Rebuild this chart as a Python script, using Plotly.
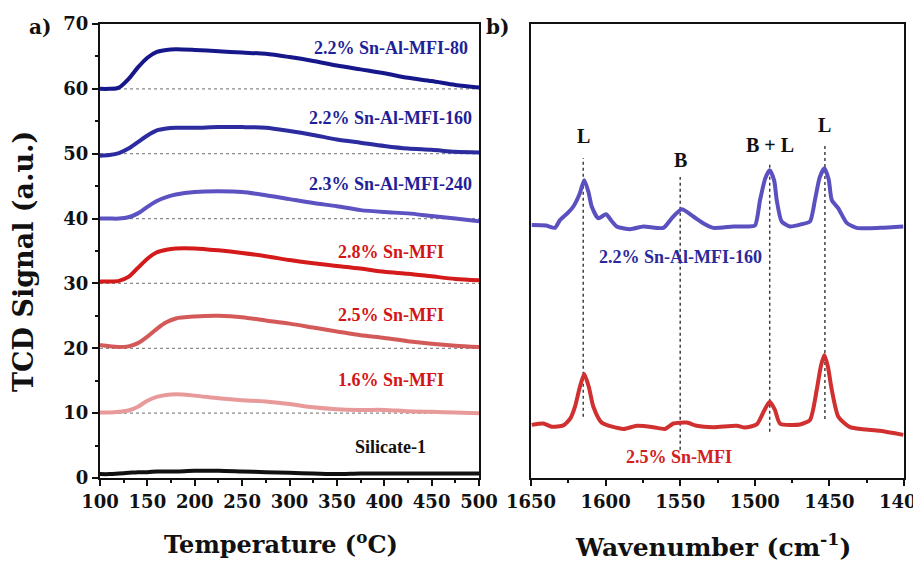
import plotly.graph_objects as go

# ---------------- Panel a) TPD data ----------------
temp = [100, 110, 120, 130, 140, 150, 160, 170, 180, 200, 225, 250, 275, 300, 325, 350, 375, 400, 425, 450, 475, 500]
sn_al_80 = [60.0, 60.0, 60.2, 61.5, 63.3, 64.8, 65.7, 66.0, 66.1, 66.0, 65.8, 65.6, 65.4, 64.9, 64.3, 63.6, 63.0, 62.4, 61.7, 61.2, 60.6, 60.2]
sn_al_160 = [49.7, 49.8, 50.1, 50.8, 51.8, 52.8, 53.6, 53.9, 54.0, 54.0, 54.1, 54.1, 54.0, 53.5, 52.9, 52.2, 51.7, 51.2, 50.8, 50.6, 50.3, 50.2]
sn_al_240 = [40.0, 40.0, 40.0, 40.2, 40.8, 41.8, 42.7, 43.3, 43.7, 44.1, 44.2, 44.1, 43.6, 43.0, 42.4, 41.9, 41.3, 41.0, 40.8, 40.4, 40.0, 39.6]
sn_28 = [30.3, 30.3, 30.4, 31.0, 32.4, 33.8, 34.8, 35.2, 35.4, 35.4, 35.1, 34.7, 34.2, 33.6, 33.1, 32.7, 32.3, 31.8, 31.5, 31.1, 30.7, 30.5]
sn_25 = [20.5, 20.3, 20.2, 20.3, 20.8, 21.8, 23.0, 24.0, 24.6, 24.9, 25.0, 24.8, 24.3, 23.8, 23.2, 22.6, 22.0, 21.6, 21.1, 20.7, 20.4, 20.2]
sn_16 = [10.1, 10.1, 10.2, 10.4, 11.0, 11.9, 12.5, 12.8, 12.9, 12.7, 12.3, 12.0, 11.8, 11.4, 10.9, 10.6, 10.5, 10.5, 10.3, 10.2, 10.1, 10.0]
silicate = [0.6, 0.6, 0.7, 0.8, 0.9, 0.9, 1.0, 1.0, 1.0, 1.1, 1.1, 1.0, 0.9, 0.8, 0.7, 0.6, 0.7, 0.7, 0.7, 0.7, 0.7, 0.7]
baselines = [10, 20, 30, 40, 50, 60]

tpd_names = ["2.2% Sn-Al-MFI-80", "2.2% Sn-Al-MFI-160", "2.3% Sn-Al-MFI-240",
             "2.8% Sn-MFI", "2.5% Sn-MFI", "1.6% Sn-MFI", "Silicate-1"]
tpd_series = [sn_al_80, sn_al_160, sn_al_240, sn_28, sn_25, sn_16, silicate]
tpd_colors = ["#17178c", "#2c2ca0", "#5c52c2", "#d41a1a", "#d45a5a", "#e89a9a", "#111111"]
label_colors = ["#1f1f99", "#1f1f99", "#1f1f99", "#d41515", "#d41515", "#d41515", "#111111"]
label_y = [66.3, 55.5, 45.3, 34.9, 25.1, 15.1, 4.8]
label_x = 407

# ---------------- Panel b) IR data ----------------
wn_blue = [1649.5, 1640, 1634, 1630.6, 1625, 1621.6, 1617.5, 1614.3, 1611.5, 1609.3, 1604.9, 1599.7, 1596,
           1592.6, 1583.6, 1574.7, 1561.3, 1555.7, 1549, 1541.2, 1534, 1527.8, 1514.4, 1505.4, 1499.9,
           1496.5, 1493, 1490, 1487, 1485.3, 1482, 1476.4, 1468.6, 1463, 1459.7, 1456.5, 1453.4, 1450.5,
           1448.4, 1444, 1438.4, 1431.7, 1416.1, 1400.5]
ir_blue = [55.7, 55.6, 55.1, 56.8, 58.5, 59.8, 62.5, 65.6, 63.0, 59.8, 57.2, 58.1, 56.6,
           55.4, 54.8, 55.4, 55.1, 57.2, 59.2, 57.6, 56.0, 55.1, 55.4, 55.4, 55.6,
           61.2, 66.0, 67.8, 65.5, 61.2, 56.5, 55.4, 55.9, 56.5, 61.2, 66.2, 68.2, 65.8,
           61.2, 59.4, 56.2, 55.1, 55.1, 55.4]
wn_red = [1649.5, 1641.7, 1636.1, 1628.3, 1623.5, 1620.5, 1617.3, 1614.3, 1611.2, 1608.2, 1602.6, 1588.1,
          1579.2, 1568, 1560.2, 1554.6, 1545.6, 1538.9, 1527.8, 1512.1, 1506.6, 1498.7, 1493.5, 1490,
          1486.5, 1483.1, 1469.7, 1463, 1458.5, 1455.8, 1453.4, 1451, 1448.4, 1444, 1436.2, 1416.1, 1400.5]
ir_red = [11.7, 12.0, 11.3, 11.6, 13.2, 15.7, 20.0, 22.9, 20.0, 15.7, 12.2, 10.8,
          11.5, 11.2, 10.8, 12.0, 12.2, 11.5, 11.2, 11.5, 11.1, 11.8, 15.0, 16.8,
          15.0, 12.0, 11.8, 12.8, 19.4, 24.5, 27.1, 24.5, 19.4, 13.5, 11.2, 10.4, 9.5]
band_pos = [1615, 1550, 1490, 1453]
band_labels = ["L", "B", "B + L", "L"]
band_top = [70.5, 66.3, 69.4, 73.2]
band_bottom = [13.5, 6.2, 10.2, 13.0]
band_label_y = [75.3, 70.0, 73.3, 77.8]

# page is offset by the browser's default 8px body margin
W, H, OFF = 905, 555, 8


def px(X):
    return (X - OFF) / W


def py(Y):
    return 1 - (Y - OFF) / H


fig = go.Figure()

for b in baselines:
    fig.add_trace(go.Scatter(x=[temp[0], temp[-1]], y=[b, b], mode="lines",
                             line=dict(color="#8a8a8a", width=1.2, dash="dot"),
                             xaxis="x", yaxis="y", showlegend=False, hoverinfo="skip"))

for name, ser, col in zip(tpd_names, tpd_series, tpd_colors):
    fig.add_trace(go.Scatter(x=temp, y=ser, mode="lines", name=name,
                             line=dict(color=col, width=4, shape="spline", smoothing=0.8),
                             xaxis="x", yaxis="y", showlegend=False))

for name, ly, col in zip(tpd_names, label_y, label_colors):
    fig.add_annotation(x=label_x, y=ly, xref="x", yref="y", text="<b>%s</b>" % name,
                       showarrow=False, font=dict(family="Liberation Serif", size=18, color=col))

for pos, top, bot in zip(band_pos, band_top, band_bottom):
    fig.add_trace(go.Scatter(x=[pos, pos], y=[bot, top], mode="lines",
                             line=dict(color="#333333", width=1.4, dash="dot"),
                             xaxis="x2", yaxis="y2", showlegend=False, hoverinfo="skip"))

fig.add_trace(go.Scatter(x=wn_blue, y=ir_blue, mode="lines", name="2.2% Sn-Al-MFI-160",
                         line=dict(color="#5a50c0", width=4, shape="spline", smoothing=0.6),
                         xaxis="x2", yaxis="y2", showlegend=False))
fig.add_trace(go.Scatter(x=wn_red, y=ir_red, mode="lines", name="2.5% Sn-MFI",
                         line=dict(color="#d03030", width=4, shape="spline", smoothing=0.6),
                         xaxis="x2", yaxis="y2", showlegend=False))

for pos, lab, ly in zip(band_pos, band_labels, band_label_y):
    fig.add_annotation(x=pos, y=ly, xref="x2", yref="y2", text="<b>%s</b>" % lab,
                       showarrow=False, font=dict(family="Liberation Serif", size=20, color="#111111"))

fig.add_annotation(x=1550, y=48.6, xref="x2", yref="y2", text="<b>2.2% Sn-Al-MFI-160</b>",
                   showarrow=False, font=dict(family="Liberation Serif", size=18, color="#2a2a9a"))
fig.add_annotation(x=1551, y=4.6, xref="x2", yref="y2", text="<b>2.5% Sn-MFI</b>",
                   showarrow=False, font=dict(family="Liberation Serif", size=18, color="#d02020"))

paper_texts = [
    (40, 27, "<b>a)</b>", 20, 0),
    (497, 27, "<b>b)</b>", 20, 0),
    (281, 543, "<b>Temperature (<sup>o</sup>C)</b>", 24, 0),
    (713, 545, "<b>Wavenumber (cm<sup>-1</sup>)</b>", 25, 0),
    (23, 262, "<b>TCD Signal (a.u.)</b>", 27, -90),
]
for X, Y, txt, sz, ang in paper_texts:
    fig.add_annotation(x=px(X), y=py(Y), xref="paper", yref="paper", text=txt, textangle=ang,
                       xanchor="center", yanchor="middle", showarrow=False,
                       font=dict(family="DejaVu Serif", size=sz, color="#111111"))

axis_common = dict(showline=True, linecolor="#111111", linewidth=2, mirror=True,
                   showgrid=False, zeroline=False, ticks="outside", ticklen=6, tickwidth=2,
                   tickcolor="#111111", automargin=False, ticklabeloverflow="allow",
                   tickfont=dict(family="DejaVu Serif", size=18, color="#111111"))

xt1 = [100, 150, 200, 250, 300, 350, 400, 450, 500]
yt1 = [0, 10, 20, 30, 40, 50, 60, 70]
xt2 = [1650, 1600, 1550, 1500, 1450, 1400]

fig.update_layout(
    width=W, height=H, margin=dict(l=0, r=0, t=0, b=0),
    paper_bgcolor="white", plot_bgcolor="white",
    xaxis=dict(domain=[px(100), px(479)], range=[100, 500], tickvals=xt1,
               ticktext=["<b>%d</b>" % v for v in xt1],
               minor=dict(ticks="outside", ticklen=3, tickwidth=1.5, tickcolor="#111111", dtick=25),
               anchor="y", **axis_common),
    yaxis=dict(domain=[py(478), py(24)], range=[0, 70], tickvals=yt1,
               ticktext=["<b>%d</b>" % v for v in yt1],
               minor=dict(ticks="outside", ticklen=3, tickwidth=1.5, tickcolor="#111111", dtick=5),
               anchor="x", **axis_common),
    xaxis2=dict(domain=[px(531), px(904)], range=[1650, 1400], tickvals=xt2,
                ticktext=["<b>%d</b>" % v for v in xt2],
                minor=dict(ticks="outside", ticklen=3, tickwidth=1.5, tickcolor="#111111", dtick=25),
                anchor="y2", **axis_common),
    yaxis2=dict(domain=[py(478), py(24)], range=[0, 100], showticklabels=False,
                showline=True, linecolor="#111111", linewidth=2, mirror=True,
                showgrid=False, zeroline=False, ticks="", anchor="x2"),
)

fig.write_html("out.html")
